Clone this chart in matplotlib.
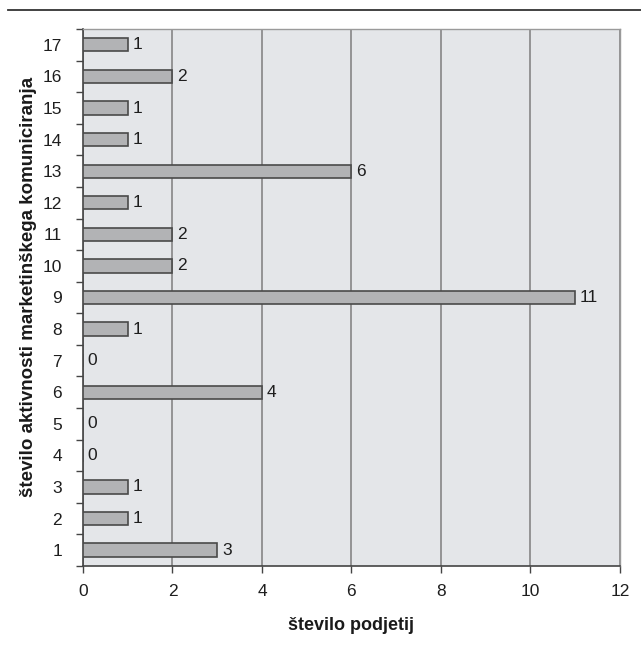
import matplotlib.pyplot as plt
from matplotlib.lines import Line2D
import numpy as np

plt.rcParams["font.family"] = ["Liberation Sans", "DejaVu Sans"]

# number of marketing communication activities vs. number of companies
activities = list(range(1, 18))
companies = [3, 1, 1, 0, 0, 4, 0, 1, 11, 2, 2, 1, 6, 1, 1, 2, 1]

fig = plt.figure(figsize=(6.41, 6.46), dpi=100)
ax = fig.add_axes([0.1295, 0.124, 0.8375, 0.831])
ax.set_facecolor("#e4e6e9")

ax.barh(activities, companies, height=0.42, color="#b2b3b5",
        edgecolor="#4a4a4a", linewidth=1.2, zorder=3)

for y, v in zip(activities, companies):
    ax.annotate(str(v), xy=(v, y), xytext=(3.5, 0), textcoords="offset points",
                ha="left", va="center", fontsize=12.5, color="#1e1e1e",
                zorder=4)

ax.set_xlim(0, 12)
ax.set_ylim(0.5, 17.5)
ax.set_xticks(np.arange(0, 13, 2))
ax.set_yticks(activities)
ax.set_yticks(np.arange(0.5, 18, 1), minor=True)
ax.tick_params(axis="y", which="major", length=0, pad=15, labelsize=12.5,
               labelcolor="#1e1e1e")
ax.tick_params(axis="y", which="minor", length=5, width=1, color="#444444")
ax.tick_params(axis="x", length=5, width=1, color="#444444", pad=8,
               labelsize=12.5, labelcolor="#1e1e1e")

ax.grid(axis="x", color="#7d7d7d", linewidth=1.1, zorder=1)
for side in ("top", "right"):
    ax.spines[side].set_color("#9a9a9a")
    ax.spines[side].set_linewidth(1.0)
for side in ("left", "bottom"):
    ax.spines[side].set_color("#444444")
    ax.spines[side].set_linewidth(1.2)

ax.set_xlabel("število podjetij", fontsize=13, fontweight="bold",
              color="#1a1a1a", labelpad=13)
ax.set_ylabel("število aktivnosti marketinškega komuniciranja", fontsize=13.5,
              fontweight="bold", color="#1a1a1a")
ax.yaxis.set_label_coords(-0.085, 0.52)

# rule across the top of the page
fig.add_artist(Line2D([0.013, 1.0], [0.985, 0.985], color="#333333",
                      linewidth=1.3, transform=fig.transFigure))

fig.savefig("out.png", dpi=100)
